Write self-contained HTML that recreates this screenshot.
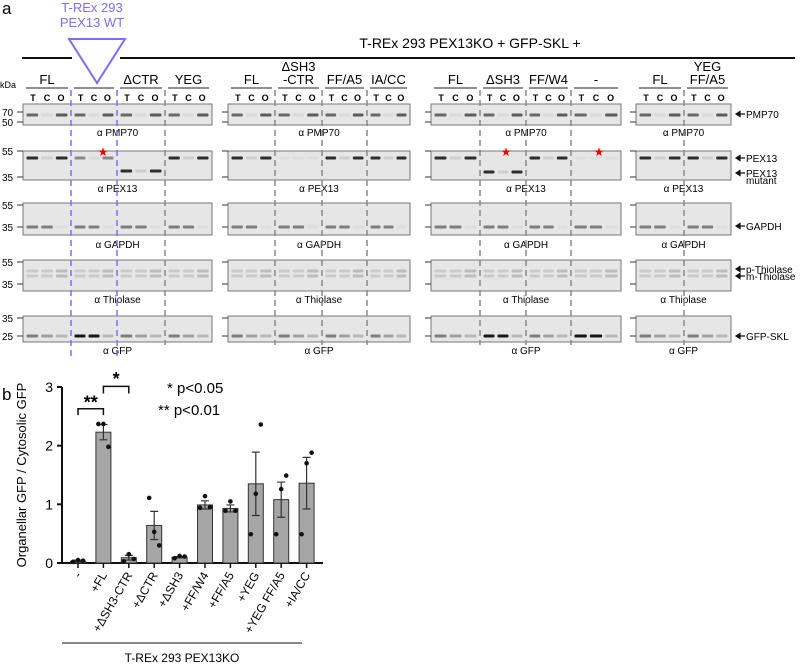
<!DOCTYPE html>
<html><head><meta charset="utf-8">
<style>
body{margin:0;background:#fff;font-family:"Liberation Sans",sans-serif;}
svg text{font-family:"Liberation Sans",sans-serif;}
</style></head>
<body>
<svg width="800" height="666" viewBox="0 0 800 666" id="fig">
<text x="2" y="14" font-size="17">a</text>
<text x="92" y="12" font-size="13" fill="#7b6ef6" text-anchor="middle">T-REx 293</text>
<text x="92" y="27" font-size="13" fill="#7b6ef6" text-anchor="middle">PEX13 WT</text>
<polygon points="69,39 125,39 97,83" fill="none" stroke="#7b6ef6" stroke-width="2"/>
<line x1="22" y1="58" x2="72" y2="58" stroke="#111" stroke-width="2"/>
<line x1="120" y1="58" x2="795" y2="58" stroke="#111" stroke-width="2"/>
<text x="470" y="48" font-size="14" text-anchor="middle">T-REx 293 PEX13KO + GFP-SKL +</text>
<text x="0" y="88" font-size="9">kDa</text>
<g id="blots"></g>
<g id="chart"></g>
</svg>
<script>
// ===== Bar chart data =====
const categories = ["-", "+FL", "+ΔSH3-CTR", "+ΔCTR", "+ΔSH3", "+FF/W4", "+FF/A5", "+YEG", "+YEG FF/A5", "+IA/CC"];
const means = [0.03, 2.23, 0.09, 0.64, 0.10, 0.99, 0.93, 1.35, 1.08, 1.36];
const errLow = [0.02, 2.10, 0.05, 0.40, 0.09, 0.92, 0.87, 0.81, 0.78, 0.92];
const errHigh = [0.05, 2.36, 0.13, 0.88, 0.11, 1.06, 0.99, 1.89, 1.38, 1.80];
const pointsA = [0.02, 2.37, 0.03, 1.11, 0.08, 0.94, 0.89, 0.49, 0.49, 0.49];
const pointsB = [0.05, 2.37, 0.15, 0.53, 0.12, 1.14, 1.05, 1.18, 1.26, 1.70];
const pointsC = [0.04, 1.98, 0.07, 0.30, 0.11, 0.95, 0.89, 2.36, 1.49, 1.88];
const yTicks = [0, 1, 2, 3];

const NS = "http://www.w3.org/2000/svg";
function mk(tag, attrs, parent, txt){const e=document.createElementNS(NS,tag);for(const k in attrs)e.setAttribute(k,attrs[k]);if(txt!==undefined)e.textContent=txt;parent.appendChild(e);return e;}

const chart = document.getElementById('chart');
const X0 = 62, X1 = 323, Y0 = 563, Y3 = 387;
const yScale = v => Y0 - (v / 3) * (Y0 - Y3);
const xScale = i => X0 + 16 + i * 25.4;

mk('text',{x:2,y:400,'font-size':17,},chart,'b');
const ya = mk('line',{x1:X0,y1:Y3,x2:X0,y2:Y0,stroke:'#111','stroke-width':2},chart);


const xa = mk('line',{x1:X0-1,y1:Y0,x2:X1,y2:Y0,stroke:'#111','stroke-width':2},chart);


yTicks.forEach(t=>{
  const y=yScale(t);
  const tl=mk('line',{x1:X0-5,y1:y,x2:X0,y2:y,stroke:'#111','stroke-width':2},chart);
  
  
  const tt=mk('text',{x:X0-9,y:y+5,'font-size':14,'text-anchor':'end'},chart,String(t));
  
  
});
const yt = mk('text',{x:0,y:0,'font-size':13,'text-anchor':'middle',transform:'translate(26,475) rotate(-90)'},chart,'Organellar GFP / Cytosolic GFP');



categories.forEach((c,i)=>{
  const cx=xScale(i), w=15;
  const b=mk('rect',{x:cx-w/2,y:yScale(means[i]),width:w,height:Y0-yScale(means[i]),fill:'#a6a6a6',stroke:'#333','stroke-width':1},chart);
  
  
  const e=mk('path',{d:`M${cx},${yScale(errLow[i])}V${yScale(errHigh[i])}M${cx-4},${yScale(errLow[i])}h8M${cx-4},${yScale(errHigh[i])}h8`,stroke:'#333','stroke-width':1.2,fill:'none'},chart);
  
  
  [[pointsA,-5],[pointsB,0],[pointsC,5]].forEach(([arr,dx])=>{
    const p=mk('circle',{cx:cx+dx,cy:yScale(arr[i]),r:2.3,fill:'#111'},chart);
    
    
  });
  const tk=mk('line',{x1:cx,y1:Y0,x2:cx,y2:Y0+5,stroke:'#111','stroke-width':1.5},chart);
  
  
  const lb=mk('text',{x:0,y:0,'font-size':12,'text-anchor':'end',transform:`translate(${cx+4},${Y0+12}) rotate(-60)`},chart,c);
  
  
});
const sl=mk('line',{x1:62,y1:643,x2:302,y2:643,stroke:'#111','stroke-width':1},chart);


const gt=mk('text',{x:182,y:662,'font-size':12,'text-anchor':'middle'},chart,'T-REx 293 PEX13KO');


const br1=mk('path',{d:`M${xScale(0)},${yScale(2.52)}V${yScale(2.63)}H${xScale(1)}V${yScale(2.52)}`,stroke:'#111','stroke-width':1.5,fill:'none'},chart);


const br2=mk('path',{d:`M${xScale(1)},${yScale(2.89)}V${yScale(3.01)}H${xScale(2)}V${yScale(2.89)}`,stroke:'#111','stroke-width':1.5,fill:'none'},chart);


const s1=mk('text',{x:(xScale(0)+xScale(1))/2,y:yScale(2.6)-2,'font-size':18,'font-weight':'bold','text-anchor':'middle'},chart,'**');


const s2=mk('text',{x:(xScale(1)+xScale(2))/2,y:yScale(3.0)-2,'font-size':18,'font-weight':'bold','text-anchor':'middle'},chart,'*');


const l1=mk('text',{x:167,y:393,'font-size':15},chart,'* p<0.05');


const l2=mk('text',{x:158,y:415,'font-size':15},chart,'** p<0.01');



// ===== Blots =====
const blots=document.getElementById('blots');
const groups=[
 {x0:23,x1:212,subs:["FL","","ΔCTR","YEG"],seps:[71,117,165],sepCol:['#7b6ef6','#7b6ef6','#888']},
 {x0:228,x1:410,subs:["FL","ΔSH3\n-CTR","FF/A5","IA/CC"],seps:[275,322,367],sepCol:['#888','#888','#888']},
 {x0:431,x1:621,subs:["FL","ΔSH3","FF/W4","-"],seps:[480,526,571],sepCol:['#888','#888','#888']},
 {x0:636,x1:731,subs:["FL","YEG\nFF/A5"],seps:[684],sepCol:['#888']}
];
const rows=[
 {n:'PMP70',y0:104,y1:125,lab:132,ticks:[[112,'70'],[122,'50']]},
 {n:'PEX13',y0:151,y1:180,lab:188,ticks:[[151,'55'],[177,'35']]},
 {n:'GAPDH',y0:203,y1:235,lab:244,ticks:[[205,'55'],[227,'35']]},
 {n:'Thiolase',y0:260,y1:291,lab:299,ticks:[[262,'55'],[284,'35']]},
 {n:'GFP',y0:316,y1:342,lab:350,ticks:[[318,'35'],[336,'25']]}
];
const bandY={PMP70:[115],PEX13:[158],GAPDH:[227],Thiolase:[271,276],GFP:[336]};
const inten={PMP70:[.55,.05,.6],PEX13:[.8,.1,.8],GAPDH:[.45,.45,.04],Thiolase:[.12,.12,.18],GFP:[.45,.3,.2]};
groups.forEach((g,gi)=>{
  const bounds=[g.x0,...g.seps,g.x1];
  for(let s=0;s<bounds.length-1;s++){
    const a=bounds[s]+3,b=bounds[s+1]-3,cx=(a+b)/2;
    const ul=mk('line',{x1:a,y1:88,x2:b,y2:88,stroke:'#222','stroke-width':1},blots);
    
    
    const lines=g.subs[s].split('\n');
    lines.forEach((t,k)=>{
      const tx=mk('text',{x:cx,y:84-(lines.length-1-k)*13,'font-size':13,'text-anchor':'middle'},blots,t);
      
      
    });
    const lw=(b-a)/3;
    ['T','C','O'].forEach((L,li)=>{
      const lx=a+lw*(li+0.5);
      const t=mk('text',{x:lx,y:101,'font-size':9,'font-weight':'bold','text-anchor':'middle'},blots,L);
      
      
    });
  }
  rows.forEach((r,ri)=>{
    const box=mk('rect',{x:g.x0,y:r.y0,width:g.x1-g.x0,height:r.y1-r.y0,fill:'#e6e6e6',stroke:'#777','stroke-width':1},blots);
    
    
    r.ticks.forEach(([ty,tl])=>{
      const tk=mk('line',{x1:g.x0-6,y1:ty,x2:g.x0,y2:ty,stroke:'#333'},blots);
      
      
      if(gi==0){const tt=mk('text',{x:2,y:ty+4,'font-size':10},blots,tl);
        
        }
    });
    const lab=mk('text',{x:(g.x0+g.x1)/2,y:r.lab+4,'font-size':10,'text-anchor':'middle'},blots,'α '+r.n);
    
    
    const bounds2=[g.x0,...g.seps,g.x1];
    for(let s=0;s<bounds2.length-1;s++){
      const a=bounds2[s]+2,b=bounds2[s+1]-2,lw=(b-a)/3;
      for(let li=0;li<3;li++){
        let yy=bandY[r.n];
        let v=inten[r.n][li];
        if(r.n==='PEX13'){
          if((gi==0&&s==2)||(gi==2&&s==1)) yy=[gi==0?171:172];
          if((gi==1&&s==1)||(gi==2&&s==3)) v=0.03;
          if(gi==0&&s==1) v=v*0.5;
        }
        if(r.n==='GFP'&&((gi==0&&s==1)||(gi==2&&(s==1||s==3)))&&li<2) v=0.9;
        yy.forEach(by=>{
          const band=mk('rect',{x:a+lw*li+1.5,y:by-1.5,width:lw-3,height:3,fill:'#000','fill-opacity':v,rx:1},blots);
          
          
        });
      }
    }
  });
  g.seps.forEach((sx,k)=>{
    const d=mk('line',{x1:sx,y1:90,x2:sx,y2:g.sepCol[k]=='#888'?345:356,stroke:g.sepCol[k],'stroke-width':1.5,'stroke-dasharray':'6,4'},blots);
    
    
  });
});
[[103,150],[506,150],[599,150]].forEach(([x,y])=>{
  const st=mk('text',{x:x,y:y+6,'font-size':12,fill:'#e00','text-anchor':'middle'},blots,'★');
  
  
});
[[114,'PMP70'],[158,'PEX13'],[173,'PEX13'],[226,'GAPDH'],[269,'p-Thiolase'],[276,'m-Thiolase'],[336,'GFP-SKL']].forEach(([y,t])=>{
  const ar=mk('path',{d:`M736,${y}h9M736,${y}l4,-2.5v5z`,stroke:'#111','stroke-width':1.2,fill:'#111'},blots);
  
  
  const tx=mk('text',{x:746,y:y+4,'font-size':10},blots,t);
  
  
});
const mu=mk('text',{x:746,y:184,'font-size':10},blots,'mutant');


</script>
</body></html>
